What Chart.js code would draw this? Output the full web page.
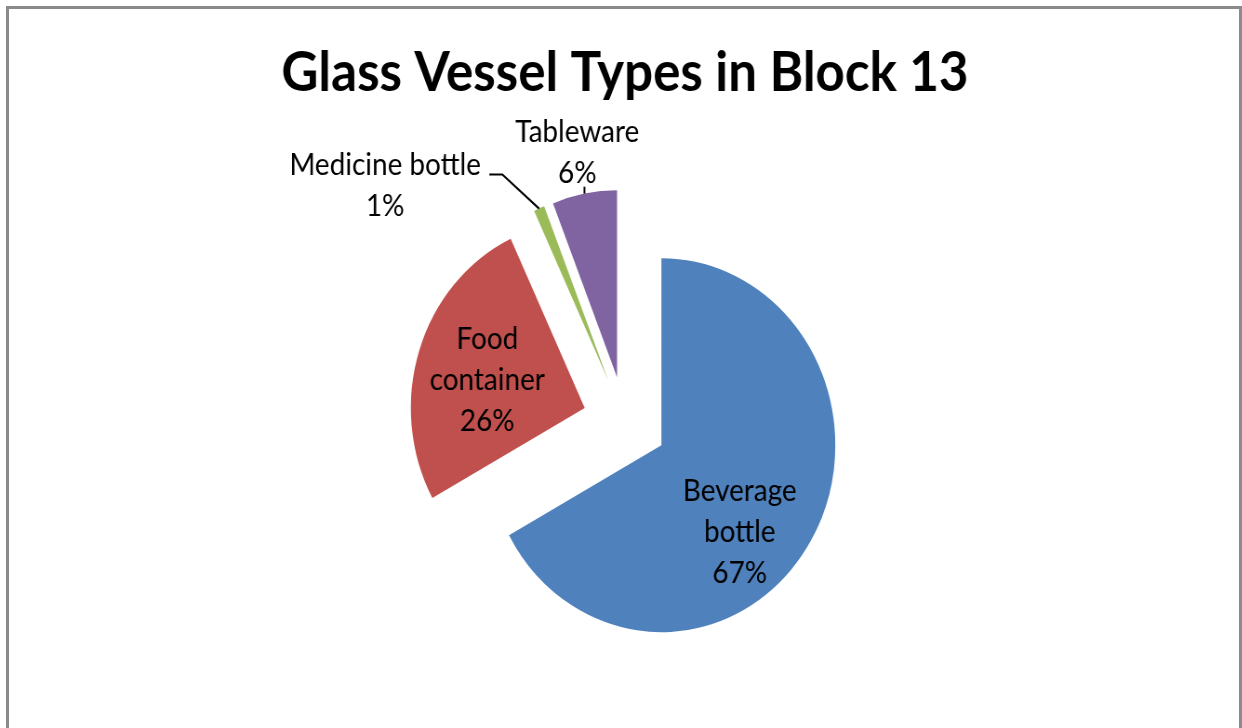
<!DOCTYPE html>
<html>
<head>
<meta charset="utf-8">
<title>Glass Vessel Types in Block 13</title>
<script src="https://cdn.jsdelivr.net/npm/chart.js@4.4.1/dist/chart.umd.min.js"></script>
<style>
  html, body { margin: 0; padding: 0; background: #fff; width: 1242px; height: 728px; overflow: hidden; }
  /* the original picture is squeezed a little horizontally */
  #wrap { position: absolute; left: 0; top: 0; width: 1336px; height: 728px; transform: scaleX(0.93); transform-origin: 0 0; }
  #frame { position: absolute; left: 6px; top: 6px; width: 1230px; height: 760px; border: 3px solid #8a8a8a; border-bottom: none; pointer-events: none; }
</style>
</head>
<body>
<div id="wrap"><canvas id="pieChart"></canvas></div>
<div id="frame"></div>
<script>
const categories = ["Beverage bottle", "Food container", "Medicine bottle", "Tableware"];
const percents = [67, 26, 1, 6];

const colors = ["#4f81bd", "#c0504d", "#9bbb59", "#8064a2"];

/* label placement, relative to each slice */
const labelNudge = [15.5, -3, -27.6, 0];      // degrees from the slice mid angle
const labelRadius = [0.65, 0.58, 1.65, 1.22]; // fraction of the radius
const explode = 45.5;
const lineH = 41;
const labelFont = "30px Lato";

/* ================= EXPLODED SLICES ================= */
const explodePlugin = {
  id: "explode",
  beforeDatasetsDraw(chart) {
    const a = chart.chartArea;
    const cx = (a.left + a.right) / 2;
    const cy = (a.top + a.bottom) / 2;
    chart.getDatasetMeta(0).data.forEach(arc => {
      const mid = (arc.startAngle + arc.endAngle) / 2;
      arc.x = cx + Math.cos(mid) * explode;
      arc.y = cy + Math.sin(mid) * explode;
    });
  }
};

/* ================= DATA LABELS ================= */
const labelPlugin = {
  id: "sliceLabels",
  afterDatasetsDraw(chart) {
    const ctx = chart.ctx;
    ctx.save();
    ctx.font = labelFont;
    ctx.fillStyle = "#000";
    ctx.strokeStyle = "#000";
    ctx.lineWidth = 2;
    ctx.textAlign = "center";
    ctx.textBaseline = "middle";

    chart.getDatasetMeta(0).data.forEach((arc, i) => {
      const midRaw = (arc.startAngle + arc.endAngle) / 2;
      const mid = midRaw + labelNudge[i] * Math.PI / 180;
      const r = arc.outerRadius * labelRadius[i];
      const lx = arc.x + Math.cos(mid) * r;
      const ly = arc.y + Math.sin(mid) * r;
      const inside = labelRadius[i] < 1;

      const lines = inside ? categories[i].split(" ") : [categories[i]];
      lines.push(percents[i] + "%");

      const y0 = ly - (lines.length - 1) / 2 * lineH;
      lines.forEach((t, k) => ctx.fillText(t, lx, y0 + k * lineH));

      if (!inside) {
        const ox = arc.x + Math.cos(midRaw) * arc.outerRadius;
        const oy = arc.y + Math.sin(midRaw) * arc.outerRadius;
        const w = ctx.measureText(lines[0]).width;
        ctx.beginPath();
        if (ox - lx > w / 2) {
          const yLine = y0 + 9;
          const endX = lx + w / 2 + 9;
          ctx.moveTo(ox, oy);
          ctx.lineTo(endX + 14, yLine);
          ctx.lineTo(endX, yLine);
        } else {
          ctx.moveTo(ox, oy);
          ctx.lineTo(ox, y0 + (lines.length - 1) * lineH + 13);
        }
        ctx.stroke();
      }
    });
    ctx.restore();
  }
};

/* ================= CHART ================= */
new Chart(document.getElementById("pieChart"), {
  type: "pie",
  data: {
    labels: categories,
    datasets: [{
      data: percents,
      backgroundColor: colors,
      borderWidth: 0
    }]
  },
  options: {
    responsive: true,
    maintainAspectRatio: false,
    animation: false,
    events: [],
    radius: 187,
    layout: { padding: { left: 8, right: 0, top: 0, bottom: 0 } },
    plugins: {
      legend: { display: false },
      tooltip: { enabled: false },
      title: {
        display: true,
        text: "Glass Vessel Types in Block 13",
        color: "#000",
        font: { family: "Lato", size: 55, weight: "bold", lineHeight: 1.2 },
        padding: { top: 40, bottom: 10 }
      }
    }
  },
  plugins: [explodePlugin, labelPlugin]
});
</script>
</body>
</html>
